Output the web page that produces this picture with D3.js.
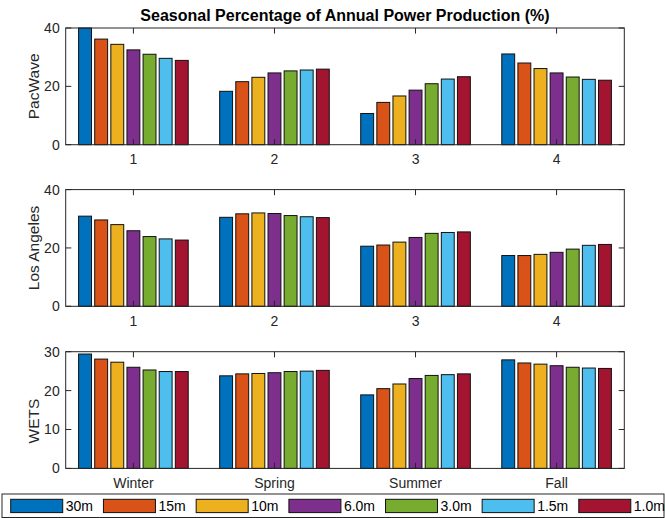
<!DOCTYPE html>
<html><head><meta charset="utf-8">
<script src="https://cdn.jsdelivr.net/npm/d3@7"></script>
<style>
html,body{margin:0;padding:0;background:#fff;}
text{font-family:"Liberation Sans",Arial,sans-serif;fill:#262626;}
</style></head>
<body>
<svg id="chart" width="665" height="518"></svg>
<script>
const seriesNames = ["30m","15m","10m","6.0m","3.0m","1.5m","1.0m"];
const colors = ["#0072BD","#D95319","#EDB120","#7E2F8E","#77AC30","#4DBEEE","#A2142F"];
const groupsTop = ["1","2","3","4"];
const groupsBottom = ["Winter","Spring","Summer","Fall"];
const panelLabels = ["PacWave","Los Angeles","WETS"];
// values[group][series]
const pacWave = [
  [40.0,36.2,34.4,32.5,31.0,29.6,28.9],
  [18.3,21.6,23.1,24.6,25.3,25.6,25.9],
  [10.7,14.5,16.7,18.7,20.9,22.5,23.3],
  [31.1,28.0,26.1,24.6,23.2,22.4,22.1]
];
const losAngeles = [
  [30.9,29.6,28.0,25.9,23.9,23.1,22.7],
  [30.5,31.7,32.0,31.8,31.1,30.7,30.4],
  [20.6,21.0,22.0,23.6,25.0,25.3,25.5],
  [17.4,17.4,17.8,18.5,19.6,20.9,21.2]
];
const wets = [
  [29.4,28.1,27.3,26.0,25.3,24.9,24.9],
  [23.8,24.3,24.4,24.6,24.9,25.0,25.2],
  [18.9,20.5,21.7,23.1,23.9,24.1,24.3],
  [27.9,27.1,26.8,26.4,26.0,25.8,25.7]
];
const yTicksTop = [0,20,40];
const yTicksBottom = [0,10,20,30];
const title = "Seasonal Percentage of Annual Power Production (%)";

const svg = d3.select("#chart");
const left = 65.7, right = 624.3, ph = 116.7;
const panelTops = [28, 189.6, 351.7];
const x = d3.scaleLinear().domain([0.52, 4.48]).range([left, right]);
const nS = seriesNames.length;
const pitch = 0.8 / nS, bw = 0.8 * pitch;

svg.append("text").attr("x", (left+right)/2).attr("y", 21)
  .attr("text-anchor","middle").style("font-weight","bold").style("font-size","16px")
  .style("fill","#000").text(title);

const panels = [
  {data: pacWave, yMax: 40, ticks: yTicksTop, cats: groupsTop, label: panelLabels[0], labelY: null},
  {data: losAngeles, yMax: 40, ticks: yTicksTop, cats: groupsTop, label: panelLabels[1], labelY: null},
  {data: wets, yMax: 30, ticks: yTicksBottom, cats: groupsBottom, label: panelLabels[2], labelY: 421}
];

panels.forEach((p, pi) => {
  const top = panelTops[pi], bot = top + ph;
  const y = d3.scaleLinear().domain([0, p.yMax]).range([bot, top]);
  const g = svg.append("g");
  // bars
  p.data.forEach((vals, gi) => {
    vals.forEach((v, si) => {
      const cx = (gi + 1) + (si - (nS-1)/2) * pitch;
      const x0 = x(cx - bw/2), x1 = x(cx + bw/2);
      g.append("rect").attr("x", x0).attr("y", y(v))
        .attr("width", x1 - x0).attr("height", y(0) - y(v))
        .attr("fill", colors[si]).attr("stroke", "#111").attr("stroke-width", 1);
    });
  });
  // box
  const ac = "#262626";
  g.append("rect").attr("x", left).attr("y", top).attr("width", right-left).attr("height", ph)
    .attr("fill","none").attr("stroke", ac).attr("stroke-width", 1);
  const tl = 5.6;
  // y ticks
  p.ticks.forEach(t => {
    const yy = y(t);
    g.append("line").attr("x1", left).attr("x2", left+tl).attr("y1", yy).attr("y2", yy).attr("stroke", ac);
    g.append("line").attr("x1", right).attr("x2", right-tl).attr("y1", yy).attr("y2", yy).attr("stroke", ac);
    g.append("text").attr("x", left - 6).attr("y", yy).attr("dy", "0.35em")
      .attr("text-anchor","end").style("font-size","14px").text(t);
  });
  // x ticks
  p.cats.forEach((c, i) => {
    const xx = x(i+1);
    g.append("line").attr("x1", xx).attr("x2", xx).attr("y1", bot).attr("y2", bot-tl).attr("stroke", ac);
    g.append("line").attr("x1", xx).attr("x2", xx).attr("y1", top).attr("y2", top+tl).attr("stroke", ac);
    g.append("text").attr("x", xx).attr("y", bot + 19.5)
      .attr("text-anchor","middle").style("font-size","14px").text(c);
  });
  // y label
  const ly = p.labelY !== null ? p.labelY : (top + bot)/2;
  g.append("text").attr("transform", `translate(38.5,${ly}) rotate(-90)`)
    .attr("text-anchor","middle").style("font-size","15.5px").text(p.label);
});

// legend
const lg = svg.append("g");
lg.append("rect").attr("x", 2).attr("y", 494).attr("width", 662).attr("height", 23.5)
  .attr("fill","#fff").attr("stroke","#262626").attr("stroke-width",1);
let lx = 10.7;
seriesNames.forEach((n, i) => {
  lg.append("rect").attr("x", lx).attr("y", 499.3).attr("width", 52).attr("height", 13.3)
    .attr("fill", colors[i]).attr("stroke","#111").attr("stroke-width",1);
  const t = lg.append("text").attr("x", lx + 55).attr("y", 506).attr("dy","0.35em")
    .style("font-size","14px").style("fill","#000").text(n);
  lx = lx + 55 + t.node().getComputedTextLength() + 10.5;
});
</script>
</body></html>
